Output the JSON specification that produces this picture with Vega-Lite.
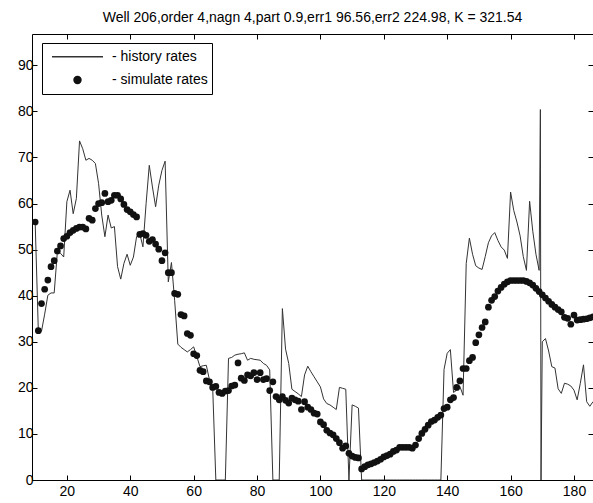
{
  "$schema": "https://vega.github.io/schema/vega-lite/v6.json",
  "width": 561,
  "height": 446,
  "autosize": {"type": "none"},
  "padding": {"left": 32, "top": 34, "right": 0, "bottom": 23},
  "background": "white",
  "title": {"text": "Well 206,order 4,nagn 4,part 0.9,err1 96.56,err2 224.98, K = 321.54", "font": "Liberation Sans", "fontSize": 14, "fontWeight": "normal", "color": "black", "anchor": "middle", "offset": 9},
  "config": {
    "view": {"stroke": "black", "strokeWidth": 1},
    "font": "Liberation Sans",
    "axis": {"grid": false, "domain": false, "tickColor": "black", "tickSize": -5, "labelFont": "Liberation Sans", "labelFontSize": 14, "labelColor": "black", "title": null}
  },
  "datasets": {
    "history": [
      {"x":10,"y":56},{"x":11,"y":32.3},{"x":12,"y":32.3},{"x":13,"y":36},{"x":14,"y":40.1},{"x":15,"y":40.6},{"x":16,"y":40.6},{"x":17,"y":49.5},{"x":18,"y":49.2},{"x":19,"y":48.4},
      {"x":20,"y":60.4},{"x":21,"y":62.9},{"x":22,"y":57.8},{"x":23,"y":61.1},{"x":24,"y":73.6},{"x":25,"y":71.9},{"x":26,"y":69.4},{"x":27,"y":69.8},{"x":28,"y":69.4},{"x":29,"y":68.7},
      {"x":30,"y":64.4},{"x":31,"y":57.5},{"x":32,"y":52.8},{"x":33,"y":57.5},{"x":34,"y":54.7},{"x":35,"y":55},{"x":36,"y":46.3},{"x":37,"y":43.6},{"x":38,"y":47},{"x":39,"y":49},
      {"x":40,"y":46.6},{"x":41,"y":48.4},{"x":42,"y":52.8},{"x":43,"y":53.5},{"x":44,"y":50.6},{"x":45,"y":60},{"x":46,"y":68.3},{"x":47,"y":63.6},{"x":48,"y":59.3},{"x":49,"y":64},
      {"x":50,"y":67.2},{"x":51,"y":69.2},{"x":52,"y":43},{"x":53,"y":47.2},{"x":54,"y":39},{"x":55,"y":29.5},{"x":56,"y":28.8},{"x":57,"y":28.3},{"x":58,"y":27.8},{"x":59,"y":28.3},
      {"x":60,"y":28.9},{"x":61,"y":26.8},{"x":62,"y":24.6},{"x":63,"y":24.8},{"x":64,"y":24.9},{"x":65,"y":21.7},{"x":66,"y":20.2},{"x":67,"y":0},{"x":68,"y":0},{"x":69,"y":0},
      {"x":70,"y":0},{"x":71,"y":26.4},{"x":72,"y":26.6},{"x":73,"y":27.1},{"x":74,"y":27.3},{"x":75,"y":27.4},{"x":76,"y":27.6},{"x":77,"y":26},{"x":78,"y":26.4},{"x":79,"y":26.2},
      {"x":80,"y":26.1},{"x":81,"y":26},{"x":82,"y":25.3},{"x":83,"y":24.9},{"x":84,"y":23.9},{"x":85,"y":0},{"x":86,"y":0},{"x":87,"y":0},{"x":88,"y":37.2},{"x":89,"y":28.4},
      {"x":90,"y":25.3},{"x":91,"y":19.7},{"x":92,"y":19.2},{"x":93,"y":18.7},{"x":94,"y":18.1},{"x":95,"y":22.8},{"x":96,"y":24.7},{"x":97,"y":23.5},{"x":98,"y":22.4},{"x":99,"y":21.3},
      {"x":100,"y":20.2},{"x":101,"y":17.6},{"x":102,"y":16.6},{"x":103,"y":16.3},{"x":104,"y":15.8},{"x":105,"y":15.3},{"x":106,"y":20.1},{"x":107,"y":19.9},{"x":108,"y":19.7},{"x":109,"y":0},
      {"x":110,"y":16.3},{"x":111,"y":16},{"x":112,"y":15.6},{"x":113,"y":0},{"x":114,"y":0},{"x":115,"y":0},{"x":116,"y":0},{"x":117,"y":0},{"x":118,"y":0},{"x":119,"y":0},
      {"x":120,"y":0},{"x":121,"y":0},{"x":122,"y":0},{"x":123,"y":0},{"x":124,"y":0},{"x":125,"y":0},{"x":126,"y":0},{"x":127,"y":0},{"x":128,"y":0},{"x":129,"y":0},
      {"x":130,"y":0},{"x":131,"y":0},{"x":132,"y":0},{"x":133,"y":0},{"x":134,"y":0},{"x":135,"y":0},{"x":136,"y":0},{"x":137,"y":0},{"x":138,"y":0},{"x":139,"y":24},
      {"x":140,"y":27.5},{"x":141,"y":28.3},{"x":142,"y":19},{"x":143,"y":19.5},{"x":144,"y":20.3},{"x":145,"y":18.4},{"x":146,"y":47},{"x":147,"y":52.5},{"x":148,"y":49},{"x":149,"y":46.5},
      {"x":150,"y":46},{"x":151,"y":45.7},{"x":152,"y":48.5},{"x":153,"y":51.5},{"x":154,"y":53},{"x":155,"y":53.7},{"x":156,"y":52},{"x":157,"y":50.6},{"x":158,"y":49.9},{"x":159,"y":48.1},
      {"x":160,"y":62.5},{"x":161,"y":58.5},{"x":162,"y":56},{"x":163,"y":53},{"x":164,"y":48.5},{"x":165,"y":45.5},{"x":166,"y":60.5},{"x":167,"y":54},{"x":168,"y":49},{"x":169,"y":45.5},
      {"x":169.4,"y":80.4},{"x":169.6,"y":0},{"x":170,"y":30},{"x":171,"y":30.7},{"x":172,"y":28},{"x":173,"y":24.6},{"x":174,"y":24.3},{"x":175,"y":19.8},{"x":176,"y":18.8},{"x":177,"y":21},
      {"x":178,"y":20.8},{"x":179,"y":20.4},{"x":180,"y":19.5},{"x":181,"y":17.4},{"x":182,"y":21},{"x":183,"y":25},{"x":184,"y":17},{"x":185,"y":16},{"x":186,"y":17}
    ],
    "simulate": [
      {"x":10,"y":56},{"x":11,"y":32.4},{"x":12,"y":38.3},{"x":13,"y":41.4},{"x":14,"y":43.4},{"x":15,"y":46.3},{"x":16,"y":47.6},{"x":17,"y":49.7},{"x":18,"y":50.8},{"x":19,"y":52.4},
      {"x":20,"y":52.9},{"x":21,"y":53.7},{"x":22,"y":54.2},{"x":23,"y":54.6},{"x":24,"y":54.9},{"x":25,"y":54.9},{"x":26,"y":54.5},{"x":27,"y":56.8},{"x":28,"y":56.4},{"x":29,"y":58.9},
      {"x":30,"y":60},{"x":31,"y":60.2},{"x":32,"y":62.2},{"x":33,"y":60.4},{"x":34,"y":60.7},{"x":35,"y":61.8},{"x":36,"y":61.8},{"x":37,"y":61},{"x":38,"y":59.8},{"x":39,"y":58.7},
      {"x":40,"y":58.2},{"x":41,"y":57.6},{"x":42,"y":57.1},{"x":43,"y":53.3},{"x":44,"y":53.5},{"x":45,"y":53.1},{"x":46,"y":51.8},{"x":47,"y":52.2},{"x":48,"y":51.2},{"x":49,"y":50.1},
      {"x":50,"y":47.6},{"x":51,"y":49.3},{"x":52,"y":45},{"x":53,"y":45},{"x":54,"y":40.5},{"x":55,"y":40.3},{"x":56,"y":35.9},{"x":57,"y":35.6},{"x":58,"y":31.8},{"x":59,"y":31.4},
      {"x":60,"y":27.4},{"x":61,"y":27},{"x":62,"y":23.8},{"x":63,"y":23.5},{"x":64,"y":21.5},{"x":65,"y":21.3},{"x":66,"y":20.1},{"x":67,"y":20.3},{"x":68,"y":19},{"x":69,"y":18.8},
      {"x":70,"y":19.3},{"x":71,"y":19.4},{"x":72,"y":20.4},{"x":73,"y":20.6},{"x":74,"y":25.4},{"x":75,"y":22.1},{"x":76,"y":21.6},{"x":77,"y":22.8},{"x":78,"y":22.6},{"x":79,"y":23.3},
      {"x":80,"y":21.8},{"x":81,"y":23.3},{"x":82,"y":21.8},{"x":83,"y":22},{"x":84,"y":19.4},{"x":85,"y":21.3},{"x":86,"y":18.1},{"x":87,"y":17.4},{"x":88,"y":18.1},{"x":89,"y":17.3},
      {"x":90,"y":16.7},{"x":91,"y":17.8},{"x":92,"y":17.4},{"x":93,"y":17.1},{"x":94,"y":15.3},{"x":95,"y":17},{"x":96,"y":15.8},{"x":97,"y":15.3},{"x":98,"y":14.5},{"x":99,"y":14.3},
      {"x":100,"y":12.6},{"x":101,"y":12},{"x":102,"y":10.8},{"x":103,"y":10.2},{"x":104,"y":9.8},{"x":105,"y":9},{"x":106,"y":8.1},{"x":107,"y":6.9},{"x":108,"y":7.4},{"x":109,"y":5.8},
      {"x":110,"y":5.2},{"x":111,"y":4.9},{"x":112,"y":4.8},{"x":113,"y":2.4},{"x":114,"y":2.9},{"x":115,"y":3.3},{"x":116,"y":3.5},{"x":117,"y":3.8},{"x":118,"y":4.1},{"x":119,"y":4.5},
      {"x":120,"y":5},{"x":121,"y":5.3},{"x":122,"y":5.6},{"x":123,"y":6.2},{"x":124,"y":6.5},{"x":125,"y":7.1},{"x":126,"y":7.1},{"x":127,"y":7.1},{"x":128,"y":7.1},{"x":129,"y":6.9},
      {"x":130,"y":7.6},{"x":131,"y":9},{"x":132,"y":10.1},{"x":133,"y":11},{"x":134,"y":11.9},{"x":135,"y":12.7},{"x":136,"y":13},{"x":137,"y":13.6},{"x":138,"y":14.1},{"x":139,"y":15.5},
      {"x":140,"y":15.8},{"x":141,"y":17.4},{"x":142,"y":17.9},{"x":143,"y":20.1},{"x":144,"y":21.5},{"x":145,"y":24.2},{"x":146,"y":24.2},{"x":147,"y":25.9},{"x":148,"y":26.6},{"x":149,"y":29.8},
      {"x":150,"y":31.5},{"x":151,"y":33.1},{"x":152,"y":34.3},{"x":153,"y":37.5},{"x":154,"y":39},{"x":155,"y":39.8},{"x":156,"y":41},{"x":157,"y":41.8},{"x":158,"y":42.5},{"x":159,"y":43},
      {"x":160,"y":43.3},{"x":161,"y":43.3},{"x":162,"y":43.3},{"x":163,"y":43.3},{"x":164,"y":43.3},{"x":165,"y":43.1},{"x":166,"y":42.8},{"x":167,"y":42.3},{"x":168,"y":41.6},{"x":169,"y":40.9},
      {"x":170,"y":40.2},{"x":171,"y":39.5},{"x":172,"y":38.8},{"x":173,"y":38.1},{"x":174,"y":37.5},{"x":175,"y":37},{"x":176,"y":36.5},{"x":177,"y":35.3},{"x":178,"y":35.1},{"x":179,"y":33.8},
      {"x":180,"y":35.8},{"x":181,"y":34.7},{"x":182,"y":34.8},{"x":183,"y":34.9},{"x":184,"y":35},{"x":185,"y":35.2},{"x":186,"y":35.4}
    ]
  },
  "layer": [
    {
      "data": {"name": "history"},
      "mark": {"type": "line", "strokeWidth": 1, "clip": true},
      "encoding": {
        "x": {"field": "x", "type": "quantitative", "scale": {"domain": [9, 186], "nice": false, "zero": false}, "axis": {"orient": "bottom", "values": [20, 40, 60, 80, 100, 120, 140, 160, 180], "labelPadding": 9}},
        "y": {"field": "y", "type": "quantitative", "scale": {"domain": [0, 96.8], "nice": false, "zero": false}, "axis": {"orient": "left", "values": [0, 10, 20, 30, 40, 50, 60, 70, 80, 90], "labelPadding": 4}},
        "color": {
          "datum": "- history rates",
          "type": "nominal",
          "scale": {"domain": ["- history rates", "- simulate rates"], "range": ["#333333", "#111111"]},
          "legend": {
            "orient": "none", "legendX": 10, "legendY": 9, "title": null,
            "strokeColor": "black", "fillColor": "white", "padding": 4,
            "clipHeight": 19.5, "rowPadding": 3.2,
            "labelFontSize": 14, "labelFont": "Liberation Sans", "labelColor": "black",
            "encode": {
              "symbols": {
                "update": {
                  "x": {"value": 31.5},
                  "shape": {"signal": "datum.value === '- history rates' ? 'stroke' : 'circle'"},
                  "size": {"signal": "datum.value === '- history rates' ? 2600 : 48"},
                  "fill": {"signal": "datum.value === '- history rates' ? 'transparent' : '#111111'"},
                  "stroke": {"signal": "datum.value === '- history rates' ? '#333333' : 'transparent'"},
                  "strokeWidth": {"value": 1.5},
                  "opacity": {"value": 1}
                }
              },
              "labels": {
                "update": {
                  "x": {"value": 66}
                }
              }
            }
          }
        }
      }
    },
    {
      "data": {"name": "simulate"},
      "mark": {"type": "point", "filled": true, "size": 45, "opacity": 1, "clip": true},
      "encoding": {
        "x": {"field": "x", "type": "quantitative", "axis": {"orient": "top", "values": [20, 40, 60, 80, 100, 120, 140, 160, 180], "labels": false}},
        "y": {"field": "y", "type": "quantitative", "axis": {"orient": "right", "values": [0, 10, 20, 30, 40, 50, 60, 70, 80, 90], "labels": false}},
        "color": {"datum": "- simulate rates", "type": "nominal"}
      }
    }
  ],
  "resolve": {"axis": {"x": "independent", "y": "independent"}}
}
